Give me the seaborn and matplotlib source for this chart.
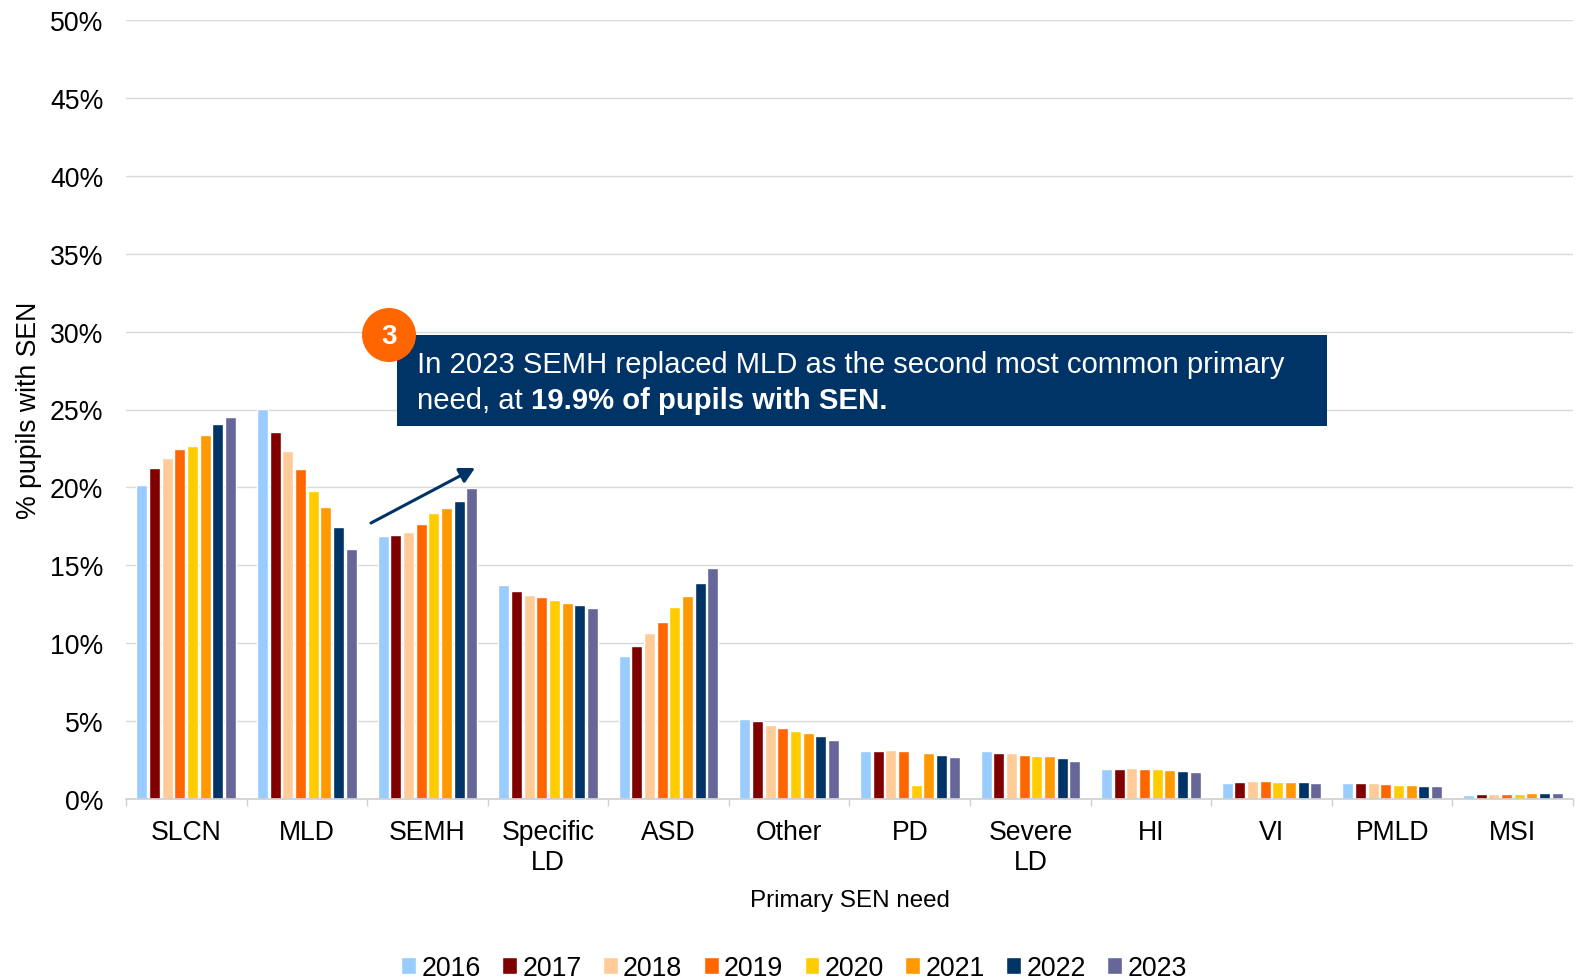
import pandas as pd
import matplotlib
matplotlib.use("Agg")
import matplotlib.pyplot as plt
import seaborn as sns
from matplotlib import ticker
from matplotlib.patches import Ellipse, Rectangle

# datos
necesidades = ["SLCN", "MLD", "SEMH", "Specific\nLD", "ASD", "Other", "PD", "Severe\nLD", "HI", "VI", "PMLD", "MSI"]
anios = ["2016", "2017", "2018", "2019", "2020", "2021", "2022", "2023"]
colores = ["#99CCFF", "#800000", "#FFCC99", "#FF6600", "#FFCC00", "#FF9900", "#003366", "#666699"]

v2016 = [20.15, 25.05, 16.85, 13.75, 9.15, 5.14, 3.05, 3.05, 1.93, 1.03, 1.05, 0.25]
v2017 = [21.25, 23.55, 16.95, 13.35, 9.85, 4.99, 3.11, 2.98, 1.95, 1.12, 1.03, 0.29]
v2018 = [21.9, 22.35, 17.15, 13.1, 10.65, 4.77, 3.13, 2.94, 1.97, 1.14, 1.01, 0.32]
v2019 = [22.45, 21.15, 17.65, 12.95, 11.35, 4.54, 3.09, 2.85, 1.95, 1.14, 0.97, 0.34]
v2020 = [22.65, 19.8, 18.35, 12.8, 12.35, 4.35, 0.93, 2.79, 1.93, 1.1, 0.93, 0.34]
v2021 = [23.35, 18.75, 18.65, 12.55, 13.0, 4.22, 2.96, 2.75, 1.89, 1.1, 0.91, 0.38]
v2022 = [24.05, 17.45, 19.1, 12.45, 13.85, 4.05, 2.83, 2.62, 1.78, 1.07, 0.86, 0.36]
v2023 = [24.55, 16.05, 19.95, 12.25, 14.85, 3.8, 2.68, 2.45, 1.72, 1.03, 0.82, 0.36]

valores = [v2016, v2017, v2018, v2019, v2020, v2021, v2022, v2023]

ANCHO, ALTO = 1577, 979


def px(x, y):
    # pixeles de la imagen (origen arriba a la izquierda) a fraccion de figura
    return x / ANCHO, 1 - y / ALTO


filas = []
for anio, serie in zip(anios, valores):
    for nec, val in zip(necesidades, serie):
        filas.append({"necesidad": nec, "anio": anio, "valor": val})
df = pd.DataFrame(filas)

sns.set_theme(style="white")
plt.rcParams["font.family"] = ["Liberation Sans", "DejaVu Sans"]

fig = plt.figure(figsize=(ANCHO / 100, ALTO / 100), dpi=100)
ax = fig.add_axes([126 / ANCHO, 1 - 800 / ALTO, (1573 - 126) / ANCHO, (800 - 21) / ALTO])

sns.barplot(data=df, x="necesidad", y="valor", hue="anio", palette=colores,
            width=0.84, gap=0.13, saturation=1, order=necesidades, hue_order=anios,
            errorbar=None, ax=ax, legend=True)

ax.set_xlim(-0.5, 11.5)
ax.set_ylim(0, 50)
ax.yaxis.set_major_locator(ticker.MultipleLocator(5))
ax.yaxis.set_major_formatter(ticker.PercentFormatter(decimals=0))
ax.set_axisbelow(True)
ax.grid(axis="y", color="#D9D9D9", linewidth=1)

for lado in ["top", "right", "left"]:
    ax.spines[lado].set_visible(False)
ax.spines["bottom"].set_color("#D0D0D0")

# marcas del eje x en los bordes de cada categoria
ax.set_xticks([i - 0.5 for i in range(13)], minor=True)
ax.tick_params(axis="x", which="minor", length=5, width=1, color="#D0D0D0", bottom=True)
ax.tick_params(axis="x", which="major", length=0, labelsize=19.2, pad=14.3, labelcolor="black")
ax.tick_params(axis="y", length=0, labelsize=19.2, pad=16.3, labelcolor="black")

ax.set_xlabel("Primary SEN need", fontsize=17.4, color="black")
ax.xaxis.set_label_coords(0.5, (800 - 901) / (800 - 21), transform=ax.transAxes)
ax.xaxis.label.set_verticalalignment("center")
ax.set_ylabel("% pupils with SEN", fontsize=19.2, color="black")
ax.yaxis.set_label_coords((29 - 126) / (1573 - 126), 0.5, transform=ax.transAxes)
ax.yaxis.label.set_verticalalignment("center")

ax.legend(loc="center", bbox_to_anchor=px(794, 969), bbox_transform=fig.transFigure, ncol=8,
          frameon=False, fontsize=19.3, handlelength=0.55, handleheight=0.55,
          handletextpad=0.2, columnspacing=0.8, borderpad=0, borderaxespad=0,
          labelcolor="black")

# recuadro con el mensaje
x0, y0 = px(397, 427)
x1, y1 = px(1327, 336)
fig.add_artist(Rectangle((x0, y0), x1 - x0, y1 - y0, transform=fig.transFigure,
                         facecolor="#003366", edgecolor="none", zorder=5))
fig.text(*px(417, 373), "In 2023 SEMH replaced MLD as the second most common primary",
         color="white", fontsize=21.1, va="baseline", ha="left", zorder=6)
t1 = fig.text(*px(417, 409), "need, at ", color="white", fontsize=21.1,
              va="baseline", ha="left", zorder=6)
fig.canvas.draw()
fin = t1.get_window_extent().x1
fig.text(fin / ANCHO, 1 - 409 / ALTO, "19.9% of pupils with SEN.", color="white", fontsize=21.1,
         fontweight="bold", va="baseline", ha="left", zorder=6)

# circulo numerado
fig.add_artist(Ellipse(px(389, 336), 54 / ANCHO, 54 / ALTO, transform=fig.transFigure,
                       facecolor="#FF6600", edgecolor="none", zorder=7))
fig.text(*px(389, 337), "3", color="white", fontsize=20, fontweight="bold",
         ha="center", va="center", zorder=8)

# flecha de SEMH
ax.annotate("", xy=px(475, 469), xytext=px(371, 524), xycoords="figure fraction",
            textcoords="figure fraction",
            arrowprops=dict(arrowstyle="-|>,head_length=0.75,head_width=0.4", color="#003366",
                            lw=2.2, shrinkA=0, shrinkB=0))

fig.savefig("out.png", dpi=100)
